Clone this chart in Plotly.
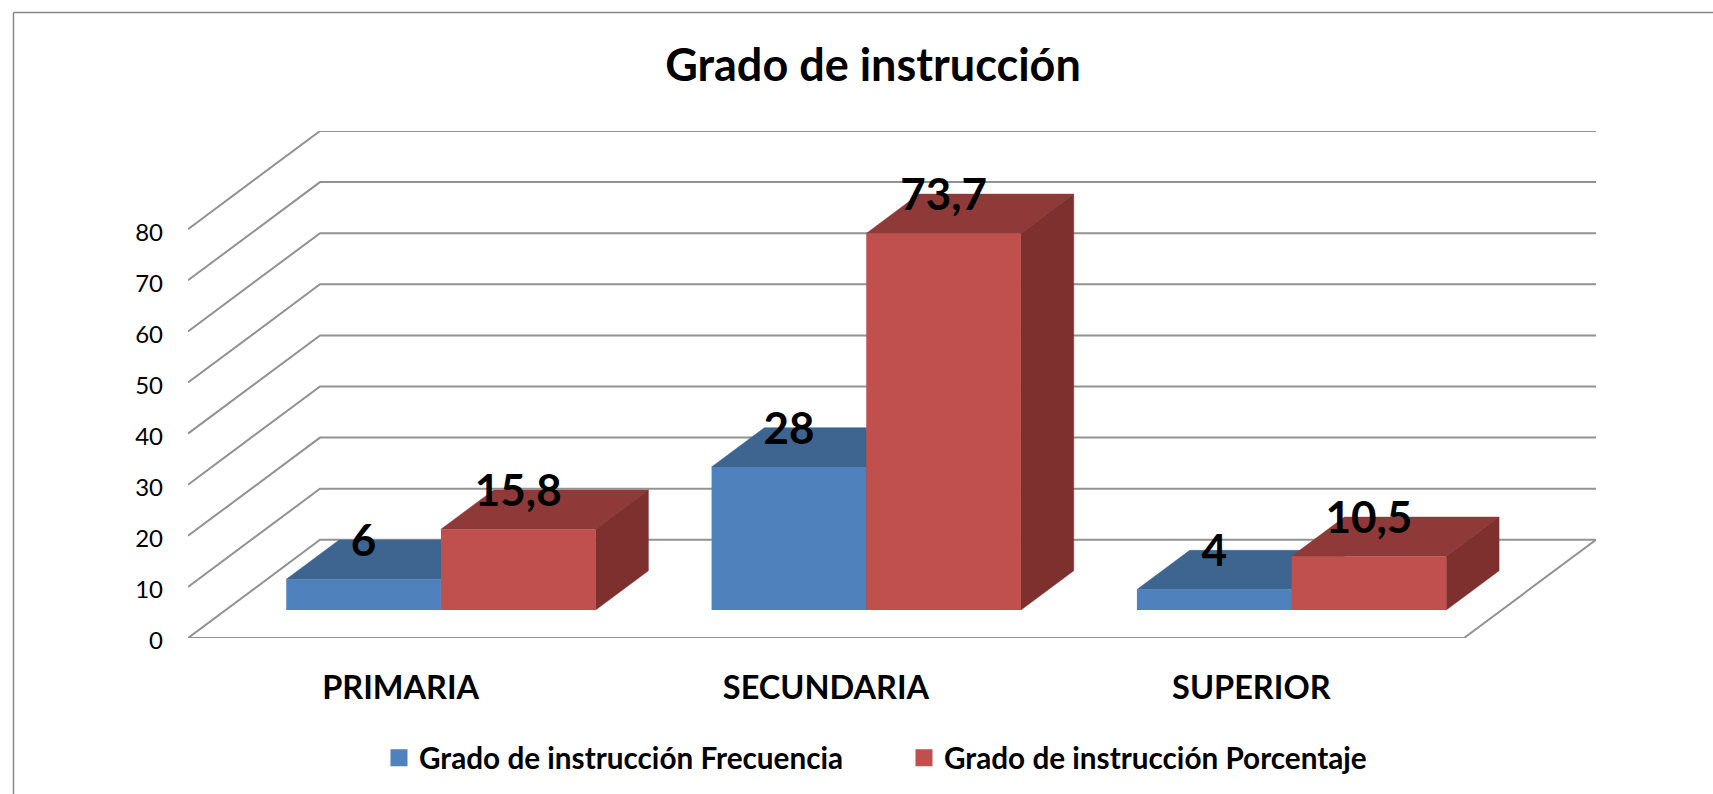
import plotly.graph_objects as go

# ---- data ----
categories = ["PRIMARIA", "SECUNDARIA", "SUPERIOR"]
frecuencia = [6, 28, 4]
porcentaje = [15.8, 73.7, 10.5]
series_names = ["Grado de instrucción Frecuencia", "Grado de instrucción Porcentaje"]
y_ticks = [0, 10, 20, 30, 40, 50, 60, 70, 80]
title_text = "Grado de instrucción"

# ---- style ----
W, H = 1713, 794
FONT = "Lato, Carlito, Calibri, sans-serif"
BLUE = ("#4F81BD", "#3E6490", "#325070")
RED = ("#C0504D", "#8F3A38", "#7D302E")
GRID = "#929292"

# oblique projection, in axis units
PX_L, PX_R, PX_T, PX_B = 188, 1596, 131, 638
DEPTH_X = 132 / (1276 / 3)       # categories per full depth
DEPTH_Y = 98 / 5.1               # value units per full depth
BAR_W = 1 / 2.75
D0_X, D0_Y, D_LEN = 0.305, 0.285, 0.40   # bar front and depth, as a share of the floor depth
LABEL_DROP = 1.0                 # value units

x_range = [0, 3 + DEPTH_X]
y_range = [0, y_ticks[-1] + DEPTH_Y]

fig = go.Figure()

# walls: each gridline goes back along the side wall, then along the back wall
for v in y_ticks:
    fig.add_trace(go.Scatter(
        x=[0, DEPTH_X, 3 + DEPTH_X], y=[v, v + DEPTH_Y, v + DEPTH_Y],
        mode="lines", line=dict(color=GRID, width=2),
        showlegend=False, hoverinfo="skip"))
fig.add_trace(go.Scatter(
    x=[0, 3, 3 + DEPTH_X], y=[0, 0, DEPTH_Y],
    mode="lines", line=dict(color=GRID, width=2),
    showlegend=False, hoverinfo="skip"))


def faces(vals, shift, cols):
    for i, v in enumerate(vals):
        xl = i + 0.5 + shift * BAR_W + D0_X * DEPTH_X
        xr = xl + BAR_W
        ddx = D_LEN * DEPTH_X
        ddy = D_LEN * DEPTH_Y
        y0 = D0_Y * DEPTH_Y
        top = y0 + v
        fig.add_trace(go.Scatter(
            x=[xl, xr, xr + ddx, xl + ddx, xl],
            y=[top, top, top + ddy, top + ddy, top],
            mode="lines", fill="toself", fillcolor=cols[1],
            line=dict(color=cols[1], width=0.5),
            showlegend=False, hoverinfo="skip"))
        fig.add_trace(go.Scatter(
            x=[xr, xr + ddx, xr + ddx, xr, xr],
            y=[y0, y0 + ddy, top + ddy, top, y0],
            mode="lines", fill="toself", fillcolor=cols[2],
            line=dict(color=cols[2], width=0.5),
            showlegend=False, hoverinfo="skip"))


faces(frecuencia, -1, BLUE)
faces(porcentaje, 0, RED)

# front faces and labels live on an overlaying pair of axes, above the side faces
base = D0_Y * DEPTH_Y
for vals, shift, cols, name in [(frecuencia, -0.5, BLUE, series_names[0]),
                                (porcentaje, 0.5, RED, series_names[1])]:
    xs = [i + 0.5 + shift * BAR_W + D0_X * DEPTH_X for i in range(len(vals))]
    fig.add_trace(go.Bar(
        x=xs, y=vals, base=base, width=BAR_W, name=name, showlegend=False,
        marker=dict(color=cols[0], line=dict(width=0)),
        xaxis="x2", yaxis="y2", hoverinfo="skip"))
    # legend entry with the larger swatch of the reference
    fig.add_trace(go.Bar(
        x=[None], y=[None], name=name,
        marker=dict(color=cols[0], line=dict(color=cols[0], width=5)),
        xaxis="x2", yaxis="y2", hoverinfo="skip"))
for vals, shift in [(frecuencia, -0.5), (porcentaje, 0.5)]:
    xs = [i + 0.5 + shift * BAR_W + D0_X * DEPTH_X for i in range(len(vals))]
    ys = [base + v + D_LEN * DEPTH_Y - LABEL_DROP for v in vals]
    fig.add_trace(go.Scatter(
        x=xs, y=ys, mode="text",
        text=[str(v).replace(".", ",") for v in vals],
        textposition="middle center",
        textfont=dict(family=FONT, size=44, color="#000000", weight="bold"),
        showlegend=False, hoverinfo="skip",
        xaxis="x2", yaxis="y2"))

# outer frame of the chart (left and top edges are the ones that show)
pw, ph = PX_R - PX_L, PX_B - PX_T
to_px = lambda px: (px - PX_L) / pw
to_py = lambda py: (PX_B - py) / ph
frame = dict(type="line", xref="paper", yref="paper",
             line=dict(color="#868686", width=1.5), layer="below")
shapes = [
    dict(frame, x0=to_px(13.5), x1=to_px(13.5), y0=to_py(794), y1=to_py(12.5)),
    dict(frame, x0=to_px(13.5), x1=to_px(1713), y0=to_py(12.5), y1=to_py(12.5)),
]

fig.update_layout(
    width=W, height=H,
    margin=dict(l=PX_L, r=W - PX_R, t=PX_T, b=H - PX_B, autoexpand=False),
    paper_bgcolor="white", plot_bgcolor="rgba(0,0,0,0)",
    barmode="overlay", showlegend=True,
    font=dict(family=FONT, color="#000000"),
    title=dict(text=title_text, x=873 / W, xanchor="center", y=1 - 65 / H, yanchor="middle",
               font=dict(family=FONT, size=45, color="#000000", weight="bold")),
    xaxis=dict(range=x_range, tickmode="array", tickvals=[0.5, 1.5, 2.5], ticktext=categories,
               showgrid=False, zeroline=False, showline=False, ticks="",
               ticklabelstandoff=27, tickfont=dict(family=FONT, size=32.5, color="#000000", weight="bold")),
    yaxis=dict(range=y_range, tickmode="array", tickvals=y_ticks,
               showgrid=False, zeroline=False, showline=False, ticks="",
               ticklabelstandoff=24, ticklabelshift=3,
               tickfont=dict(family=FONT, size=24, color="#000000")),
    xaxis2=dict(range=x_range, overlaying="x", visible=False),
    yaxis2=dict(range=y_range, overlaying="y", visible=False),
    legend=dict(orientation="h", x=to_px(379), xanchor="left", y=to_py(758), yanchor="middle",
                entrywidth=480, entrywidthmode="pixels", traceorder="normal",
                font=dict(family=FONT, size=29.7, color="#000000", weight="bold"),
                bgcolor="rgba(0,0,0,0)", itemclick=False, itemdoubleclick=False),
    shapes=shapes,
)

fig.write_html("out.html", post_script="document.body.style.margin='0';",
               config={"displayModeBar": False})
